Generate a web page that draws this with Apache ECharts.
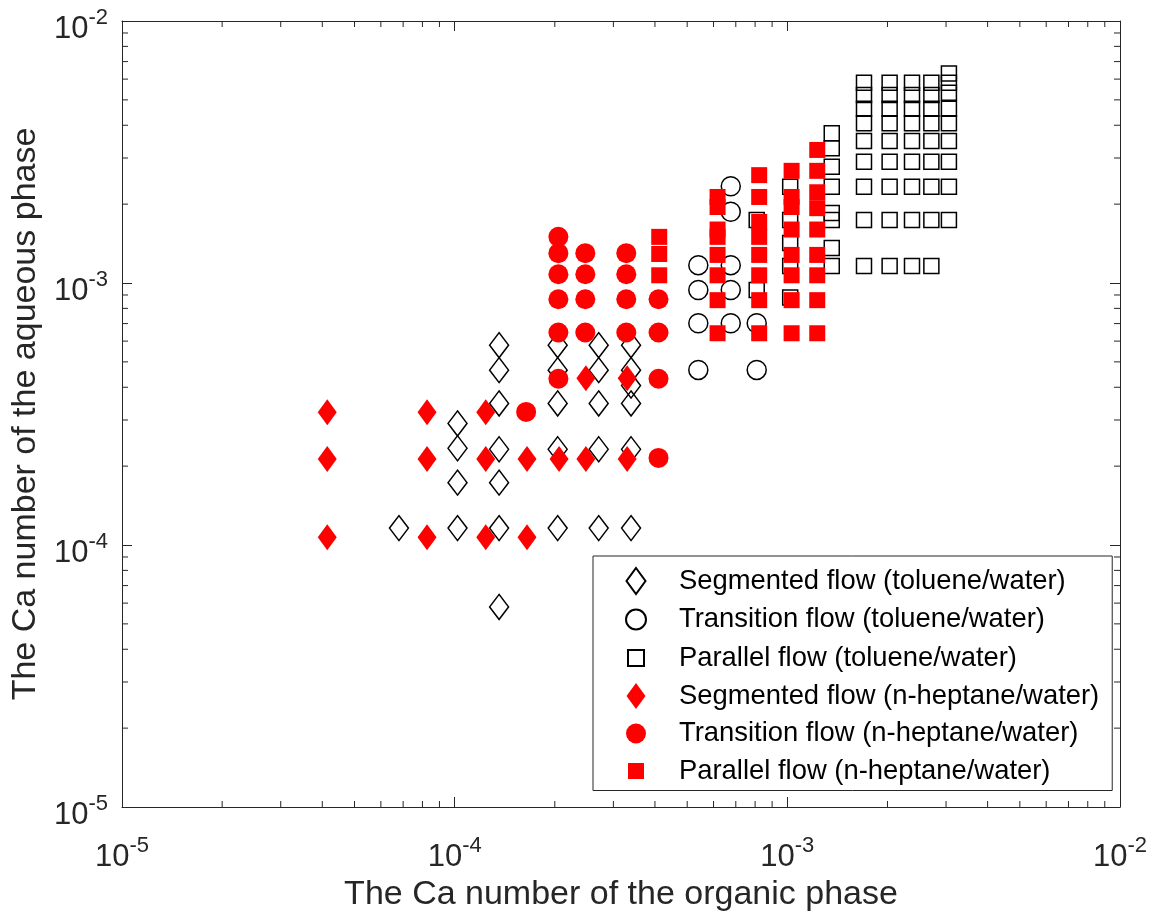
<!DOCTYPE html>
<html lang="en">
<head>
<meta charset="UTF-8">
<title>Ca number flow map</title>
<script src="https://cdn.jsdelivr.net/npm/echarts@6/dist/echarts.min.js"></script>
<style>
    html, body { margin: 0; padding: 0; background: #fff; }
    #main { width: 1154px; height: 916px; }
</style>
</head>
<body>
<div id="main"></div>
<script>
    // [Ca organic, Ca aqueous]
    var segTol = [
        [6.8e-5, 1.16e-4],
        [1.02e-4, 2.91e-4], [1.02e-4, 2.34e-4], [1.02e-4, 1.73e-4], [1.02e-4, 1.16e-4],
        [1.36e-4, 5.79e-4], [1.36e-4, 4.65e-4], [1.36e-4, 3.47e-4], [1.36e-4, 2.32e-4], [1.36e-4, 1.73e-4], [1.36e-4, 1.16e-4], [1.36e-4, 5.8e-5],
        [2.04e-4, 5.79e-4], [2.04e-4, 4.65e-4], [2.04e-4, 3.47e-4], [2.04e-4, 2.32e-4], [2.04e-4, 1.16e-4],
        [2.71e-4, 5.79e-4], [2.71e-4, 4.65e-4], [2.71e-4, 3.47e-4], [2.71e-4, 2.32e-4], [2.71e-4, 1.16e-4],
        [3.39e-4, 5.79e-4], [3.39e-4, 4.65e-4], [3.39e-4, 4.06e-4], [3.39e-4, 3.47e-4], [3.39e-4, 2.32e-4], [3.39e-4, 1.16e-4]
    ];
    var transTol = [
        [5.40e-4, 1.17e-3], [5.40e-4, 9.4e-4], [5.40e-4, 7.02e-4], [5.40e-4, 4.66e-4],
        [6.76e-4, 2.34e-3], [6.76e-4, 1.87e-3], [6.76e-4, 1.17e-3], [6.76e-4, 9.4e-4], [6.76e-4, 7.02e-4],
        [8.09e-4, 7.02e-4], [8.09e-4, 4.66e-4]
    ];
    var parTol = [
        [8.09e-4, 1.74e-3], [8.09e-4, 9.4e-4],
        [1.02e-3, 2.33e-3], [1.02e-3, 1.74e-3], [1.02e-3, 1.42e-3], [1.02e-3, 1.16e-3], [1.02e-3, 8.8e-4],
        [1.36e-3, 3.73e-3], [1.36e-3, 3.27e-3], [1.36e-3, 2.78e-3], [1.36e-3, 2.33e-3], [1.36e-3, 1.85e-3], [1.36e-3, 1.74e-3], [1.36e-3, 1.36e-3], [1.36e-3, 1.16e-3],
        [1.70e-3, 5.81e-3], [1.70e-3, 5.22e-3], [1.70e-3, 4.62e-3], [1.70e-3, 4.07e-3], [1.70e-3, 3.48e-3], [1.70e-3, 2.90e-3], [1.70e-3, 2.33e-3], [1.70e-3, 1.74e-3], [1.70e-3, 1.16e-3],
        [2.03e-3, 5.81e-3], [2.03e-3, 5.22e-3], [2.03e-3, 4.62e-3], [2.03e-3, 4.07e-3], [2.03e-3, 3.48e-3], [2.03e-3, 2.90e-3], [2.03e-3, 2.33e-3], [2.03e-3, 1.74e-3], [2.03e-3, 1.16e-3],
        [2.37e-3, 5.81e-3], [2.37e-3, 5.22e-3], [2.37e-3, 4.62e-3], [2.37e-3, 4.07e-3], [2.37e-3, 3.48e-3], [2.37e-3, 2.90e-3], [2.37e-3, 2.33e-3], [2.37e-3, 1.74e-3], [2.37e-3, 1.16e-3],
        [2.71e-3, 5.81e-3], [2.71e-3, 5.22e-3], [2.71e-3, 4.62e-3], [2.71e-3, 4.07e-3], [2.71e-3, 3.48e-3], [2.71e-3, 2.90e-3], [2.71e-3, 2.33e-3], [2.71e-3, 1.74e-3], [2.71e-3, 1.16e-3],
        [3.06e-3, 6.31e-3], [3.06e-3, 5.81e-3], [3.06e-3, 5.32e-3], [3.06e-3, 4.62e-3], [3.06e-3, 4.07e-3], [3.06e-3, 3.48e-3], [3.06e-3, 2.90e-3], [3.06e-3, 2.33e-3], [3.06e-3, 1.74e-3]
    ];
    var segHep = [
        [4.14e-5, 3.21e-4], [4.14e-5, 2.13e-4], [4.14e-5, 1.07e-4],
        [8.26e-5, 3.21e-4], [8.26e-5, 2.13e-4], [8.26e-5, 1.07e-4],
        [1.24e-4, 3.21e-4], [1.24e-4, 2.13e-4], [1.24e-4, 1.07e-4],
        [1.65e-4, 2.13e-4], [1.65e-4, 1.07e-4],
        [2.06e-4, 2.13e-4],
        [2.48e-4, 4.33e-4], [2.48e-4, 2.13e-4],
        [3.30e-4, 4.33e-4], [3.30e-4, 2.13e-4]
    ];
    var transHep = [
        [1.64e-4, 3.22e-4],
        [2.05e-4, 1.50e-3], [2.05e-4, 1.30e-3], [2.05e-4, 1.08e-3], [2.05e-4, 8.67e-4], [2.05e-4, 6.47e-4], [2.05e-4, 4.31e-4],
        [2.47e-4, 1.30e-3], [2.47e-4, 1.08e-3], [2.47e-4, 8.67e-4], [2.47e-4, 6.47e-4],
        [3.28e-4, 1.30e-3], [3.28e-4, 1.08e-3], [3.28e-4, 8.67e-4], [3.28e-4, 6.47e-4],
        [4.10e-4, 8.67e-4], [4.10e-4, 6.47e-4], [4.10e-4, 4.31e-4], [4.10e-4, 2.15e-4]
    ];
    var parHep = [
        [4.12e-4, 1.50e-3], [4.12e-4, 1.29e-3], [4.12e-4, 1.07e-3],
        [6.17e-4, 2.13e-3], [6.17e-4, 1.95e-3], [6.17e-4, 1.60e-3], [6.17e-4, 1.50e-3], [6.17e-4, 1.28e-3], [6.17e-4, 1.07e-3], [6.17e-4, 8.6e-4], [6.17e-4, 6.43e-4],
        [8.23e-4, 2.58e-3], [8.23e-4, 2.13e-3], [8.23e-4, 1.71e-3], [8.23e-4, 1.50e-3], [8.23e-4, 1.28e-3], [8.23e-4, 1.07e-3], [8.23e-4, 8.6e-4], [8.23e-4, 6.43e-4],
        [1.03e-3, 2.68e-3], [1.03e-3, 2.13e-3], [1.03e-3, 1.95e-3], [1.03e-3, 1.60e-3], [1.03e-3, 1.28e-3], [1.03e-3, 1.07e-3], [1.03e-3, 8.6e-4], [1.03e-3, 6.43e-4],
        [1.23e-3, 3.22e-3], [1.23e-3, 2.68e-3], [1.23e-3, 2.22e-3], [1.23e-3, 1.93e-3], [1.23e-3, 1.60e-3], [1.23e-3, 1.28e-3], [1.23e-3, 1.07e-3], [1.23e-3, 8.6e-4], [1.23e-3, 6.43e-4]
    ];

    var seriesNames = [
        'Segmented flow (toluene/water)',
        'Transition flow (toluene/water)',
        'Parallel flow (toluene/water)',
        'Segmented flow (n-heptane/water)',
        'Transition flow (n-heptane/water)',
        'Parallel flow (n-heptane/water)'
    ];
    // log minor tick values (2..9 per decade)
    var minorTicks = [
        2e-5, 3e-5, 4e-5, 5e-5, 6e-5, 7e-5, 8e-5, 9e-5,
        2e-4, 3e-4, 4e-4, 5e-4, 6e-4, 7e-4, 8e-4, 9e-4,
        2e-3, 3e-3, 4e-3, 5e-3, 6e-3, 7e-3, 8e-3, 9e-3
    ];

    var FONT = 'Liberation Sans, Arial, Helvetica, sans-serif';
    var AX = '#262626';
    var RED = '#ff0000';

    function powLabel(v) {
        var e = Math.round(Math.log(v) / Math.LN10);
        return '{b|10}{s|' + e + '}';
    }
    // "10" plus raised exponent
    var labelRich = {
        b: { fontSize: 31, fontFamily: FONT, color: AX, verticalAlign: 'bottom', lineHeight: 38 },
        s: { fontSize: 22, fontFamily: FONT, color: AX, verticalAlign: 'top', lineHeight: 38 }
    };

    function logAxis(pos, showLabel, extra) {
        var a = {
            type: 'log',
            logBase: 10,
            min: 1e-5,
            max: 1e-2,
            position: pos,
            splitLine: { show: false },
            axisLine: { show: true, lineStyle: { color: AX, width: 1 } },
            axisTick: { show: true, inside: true, length: 10, lineStyle: { color: AX, width: 1 } },
            minorTick: { show: false },
            axisLabel: {
                show: showLabel,
                formatter: powLabel,
                rich: labelRich,
                color: AX
            }
        };
        for (var k in extra) a[k] = extra[k];
        return a;
    }

    var chart = echarts.init(document.getElementById('main'));

    var xMain = logAxis('bottom', true, {
        name: 'The Ca number of the organic phase',
        nameLocation: 'middle',
        nameGap: 67,
        nameTextStyle: { fontSize: 34, fontFamily: FONT, color: AX }
    });
    xMain.axisLabel.margin = 28;
    var yMain = logAxis('left', true, {
        name: 'The Ca number of the aqueous phase',
        nameLocation: 'middle',
        nameGap: 72,
        nameTextStyle: { fontSize: 34, fontFamily: FONT, color: AX }
    });
    yMain.axisLabel.margin = 14;
    yMain.axisLabel.padding = [9, 0, 0, 0];

    function scatter(name, data, symbol, size, filled, z) {
        return {
            name: name,
            type: 'scatter',
            data: data,
            symbol: symbol,
            symbolSize: size,
            z: z,
            itemStyle: filled
                ? { color: RED, borderWidth: 0, opacity: 1 }
                : { color: 'rgba(0,0,0,0)', borderColor: '#000', borderWidth: 1.5, opacity: 1 },
            emphasis: { disabled: true }
        };
    }

    var diamondIcon = 'path://M0,0M26,26M13,0L22.5,13L13,26L3.5,13Z';
    var circleIcon = 'path://M0,0M26,26M3,13A10,10,0,1,1,23,13A10,10,0,1,1,3,13Z';
    var squareIcon = 'path://M0,0M26,26M5,5L21,5L21,21L5,21Z';

    var option = {
        animation: false,
        backgroundColor: '#fff',
        grid: {
            left: 122, right: 34, top: 21, bottom: 109,
            containLabel: false,
            outerBoundsMode: 'none',
            show: false
        },
        xAxis: [xMain, logAxis('top', false, {})],
        yAxis: [yMain, logAxis('right', false, {})],
        legend: {
            orient: 'vertical',
            left: 593,
            top: 556,
            padding: [11, 13, 6, 29],
            itemWidth: 76,
            itemHeight: 26,
            itemGap: 10.5,
            backgroundColor: '#fff',
            borderColor: AX,
            borderWidth: 1,
            borderRadius: 0,
            selectedMode: false,
            textStyle: { fontSize: 27.4, fontFamily: FONT, color: '#000', lineHeight: 26 },
            data: [
                { name: seriesNames[0], icon: diamondIcon },
                { name: seriesNames[1], icon: circleIcon },
                { name: seriesNames[2], icon: squareIcon },
                { name: seriesNames[3], icon: diamondIcon },
                { name: seriesNames[4], icon: circleIcon },
                { name: seriesNames[5], icon: squareIcon }
            ]
        },
        series: [
            scatter(seriesNames[0], segTol, 'diamond', [19, 25], false, 2),
            scatter(seriesNames[1], transTol, 'circle', 19, false, 2),
            scatter(seriesNames[2], parTol, 'rect', 15, false, 2),
            scatter(seriesNames[3], segHep, 'diamond', [19, 26], true, 3),
            scatter(seriesNames[4], transHep, 'circle', 20, true, 3),
            scatter(seriesNames[5], parHep, 'rect', 16, true, 3),
            {
                type: 'custom',
                name: 'minor',
                silent: true,
                z: 4,
                data: minorTicks.map(function (v) { return [v, v]; }),
                renderItem: function (params, api) {
                    var cs = params.coordSys;
                    var px = api.coord([api.value(0), 1e-3])[0];
                    var py = api.coord([1e-3, api.value(1)])[1];
                    var L = 6;
                    var st = { stroke: AX, lineWidth: 1 };
                    var b = cs.y + cs.height, r = cs.x + cs.width;
                    return {
                        type: 'group',
                        children: [
                            { type: 'line', shape: { x1: px, y1: b, x2: px, y2: b - L }, style: st },
                            { type: 'line', shape: { x1: px, y1: cs.y, x2: px, y2: cs.y + L }, style: st },
                            { type: 'line', shape: { x1: cs.x, y1: py, x2: cs.x + L, y2: py }, style: st },
                            { type: 'line', shape: { x1: r, y1: py, x2: r - L, y2: py }, style: st }
                        ]
                    };
                }
            }
        ]
    };
    chart.setOption(option);
</script>
</body>
</html>
